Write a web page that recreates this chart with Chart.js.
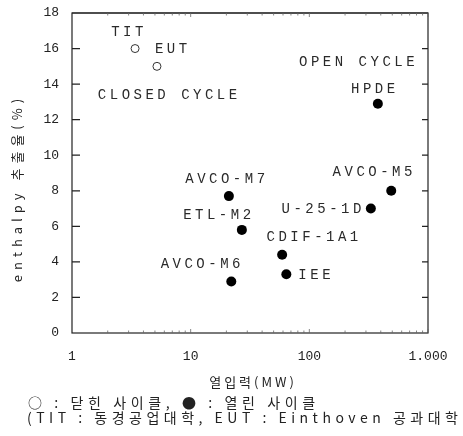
<!DOCTYPE html>
<html>
<head>
<meta charset="utf-8">
<script src="https://cdn.jsdelivr.net/npm/chart.js@4"></script>
<style>
  html, body { margin: 0; padding: 0; background: #fff; }
  canvas { display: block; }
</style>
</head>
<body>
<canvas id="enthalpyChart" width="463" height="436"></canvas>
<script>
// closed cycle (open circles)
const closedNames = ["TIT", "EUT"];
const closedPower = [3.4, 5.2];
const closedEnthalpy = [16.0, 15.0];

// open cycle (filled dots)
const openNames = ["HPDE", "AVCO-M7", "AVCO-M5", "U-25-1D", "ETL-M2", "CDIF-1A1", "IEE", "AVCO-M6"];
const openPower = [378, 21, 490, 330, 27, 59, 64, 22];
const openEnthalpy = [12.9, 7.7, 8.0, 7.0, 5.8, 4.4, 3.3, 2.9];

const xTicks = [1, 10, 100, 1000];
const xTickLabels = ["1", "10", "100", "1.000"];
const yTicks = [0, 2, 4, 6, 8, 10, 12, 14, 16, 18];

// label offsets from each point (px)
const labelOffsets = {
    "TIT": [-6, -16, "center"],
    "EUT": [-2, -17, "left"],
    "HPDE": [-3, -14, "center"],
    "AVCO-M7": [-2, -17, "center"],
    "AVCO-M5": [-17, -18, "center"],
    "U-25-1D": [-6, 1, "right"],
    "ETL-M2": [-23, -15, "center"],
    "CDIF-1A1": [32, -17, "center"],
    "IEE": [12, 1, "left"],
    "AVCO-M6": [-29, -17, "center"]
};

const monoFont = "14px 'Liberation Mono'";
const korFont = "'Noto Sans CJK KR'";

function toPoints(xs, ys) {
    return xs.map((x, i) => ({ x: x, y: ys[i] }));
}

const framePlugin = {
    id: "frame",
    afterDraw(chart) {
        let ctx = chart.ctx;
        let a = chart.chartArea;
        let xs = chart.scales.x;
        let ys = chart.scales.y;
        ctx.save();
        ctx.strokeStyle = "#222";
        ctx.lineWidth = 1.2;
        ctx.strokeRect(a.left, a.top, a.right - a.left, a.bottom - a.top);
        ctx.lineWidth = 1.2;
        ctx.beginPath();
        ctx.moveTo(a.left, a.top);
        ctx.lineTo(a.right, a.top);
        ctx.stroke();

        // inward major ticks on left and right
        ctx.lineWidth = 1.3;
        yTicks.forEach(v => {
            if (v === 0 || v === 18) return;
            let py = ys.getPixelForValue(v);
            ctx.beginPath();
            ctx.moveTo(a.left, py);
            ctx.lineTo(a.left + 8, py);
            ctx.moveTo(a.right, py);
            ctx.lineTo(a.right - 6, py);
            ctx.stroke();
        });
        // minor ticks top and bottom
        ctx.lineWidth = 0.8;
        ctx.strokeStyle = "#666";
        for (let d = 1; d < 1000; d *= 10) {
            for (let m = 2; m <= 10; m++) {
                let px = xs.getPixelForValue(d * m);
                let len = m === 10 ? 4 : 2.5;
                ctx.beginPath();
                ctx.moveTo(px, a.bottom);
                ctx.lineTo(px, a.bottom - len);
                ctx.moveTo(px, a.top);
                ctx.lineTo(px, a.top + len);
                ctx.stroke();
            }
        }

        // point labels
        ctx.fillStyle = "#2a2a2a";
        ctx.font = monoFont;
        ctx.letterSpacing = "3.5px";
        ctx.textBaseline = "middle";
        let names = closedNames.concat(openNames);
        let powers = closedPower.concat(openPower);
        let values = closedEnthalpy.concat(openEnthalpy);
        names.forEach((n, i) => {
            let off = labelOffsets[n];
            let px = xs.getPixelForValue(powers[i]) + off[0];
            let py = ys.getPixelForValue(values[i]) + off[1];
            ctx.textAlign = off[2];
            ctx.fillText(n, px, py);
        });

        // region captions
        ctx.textAlign = "center";
        ctx.fillText("CLOSED CYCLE", xs.getPixelForValue(6.6), ys.getPixelForValue(13.35));
        ctx.fillText("OPEN CYCLE", xs.getPixelForValue(260), ys.getPixelForValue(15.25));

        // axis titles
        ctx.fillStyle = "#222";
        ctx.letterSpacing = "5px";
        ctx.font = "13px " + korFont;
        ctx.save();
        ctx.translate(17, 188);
        ctx.rotate(-Math.PI / 2);
        ctx.fillText("enthalpy 추출율(%)", 0, 0);
        ctx.restore();
        ctx.letterSpacing = "3px";
        ctx.fillText("열입력(MW)", 253, 382);

        // notes
        ctx.textAlign = "left";
        ctx.font = "14px " + korFont;
        ctx.letterSpacing = "4.6px";
        ctx.fillText("○ : 닫힌 사이클, ● : 열린 사이클", 28, 403);
        ctx.letterSpacing = "4.5px";
        ctx.fillText("(TIT : 동경공업대학, EUT : Einthoven 공과대학", 27, 418);
        ctx.restore();
    }
};

new Chart("enthalpyChart", {
    type: "scatter",
    data: {
        datasets: [{
            label: "닫힌 사이클",
            data: toPoints(closedPower, closedEnthalpy),
            pointRadius: 4,
            pointBackgroundColor: "#fff",
            pointBorderColor: "#333",
            pointBorderWidth: 1
        }, {
            label: "열린 사이클",
            data: toPoints(openPower, openEnthalpy),
            pointRadius: 5,
            pointBackgroundColor: "#000",
            pointBorderColor: "#000",
            pointBorderWidth: 0
        }]
    },
    options: {
        responsive: false,
        animation: false,
        layout: { padding: { left: 0, right: 35, top: 13, bottom: 44 } },
        plugins: {
            legend: { display: false },
            tooltip: { enabled: false }
        },
        scales: {
            x: {
                type: "logarithmic",
                min: 1,
                max: 1000,
                afterBuildTicks: (s) => { s.ticks = xTicks.map(v => ({ value: v })); },
                afterFit: (s) => { s.height = 59; },
                grid: { display: false },
                border: { display: false },
                ticks: {
                    font: { family: "Liberation Mono", size: 13 },
                    color: "#222",
                    padding: 8,
                    maxRotation: 0,
                    autoSkip: false,
                    callback: (v) => xTickLabels[xTicks.indexOf(v)]
                }
            },
            y: {
                min: 0,
                max: 18,
                afterBuildTicks: (s) => { s.ticks = yTicks.map(v => ({ value: v })); },
                afterFit: (s) => { s.width = 72; },
                grid: { display: false },
                border: { display: false },
                ticks: {
                    font: { family: "Liberation Mono", size: 13 },
                    color: "#222",
                    padding: 5
                }
            }
        }
    },
    plugins: [framePlugin]
});
</script>
</body>
</html>
